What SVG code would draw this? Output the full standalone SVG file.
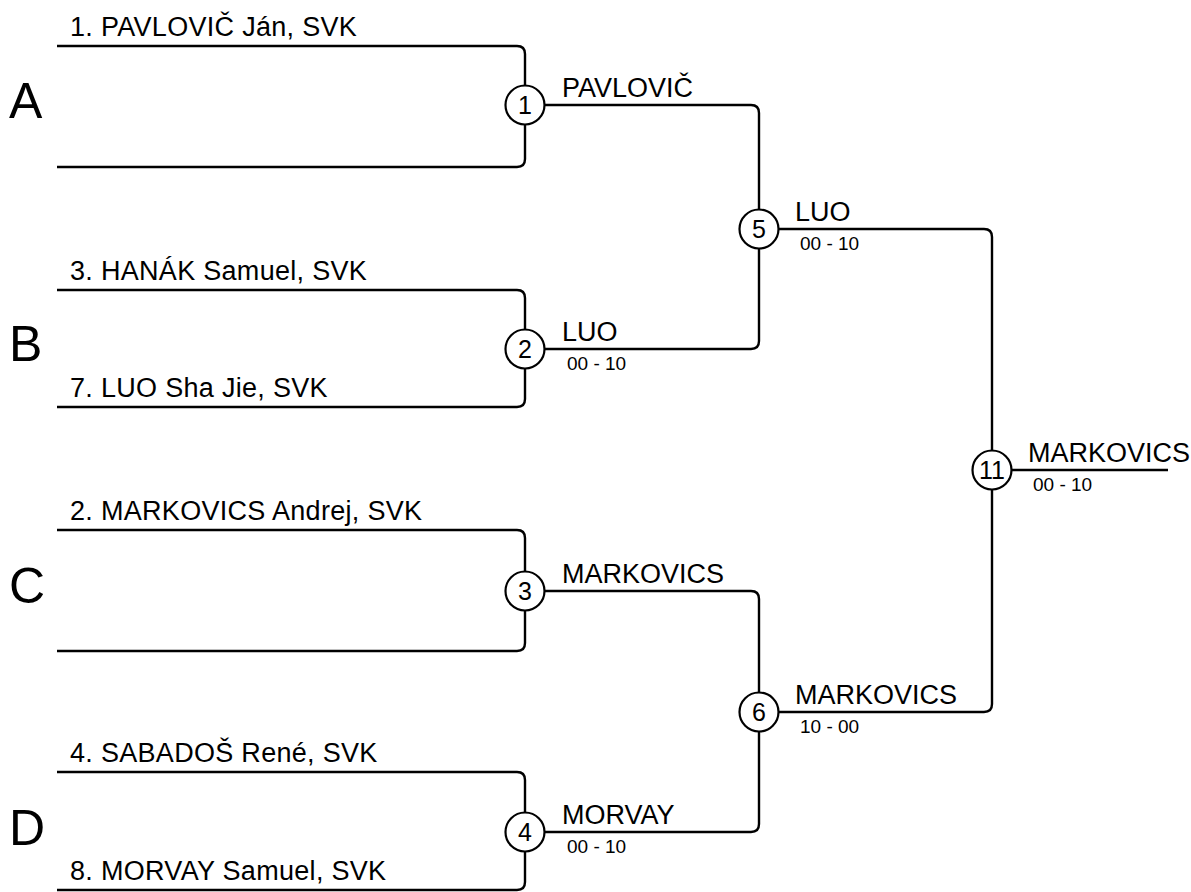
<svg xmlns="http://www.w3.org/2000/svg" width="1191" height="892" viewBox="0 0 1191 892">
<style>
.ln{fill:none;stroke:#000;stroke-width:2.4}
.c{fill:#fff;stroke:#000;stroke-width:2.2}
.t{font-family:"Liberation Sans",Arial,sans-serif;font-size:27px;fill:#000}
.p{font-family:"Liberation Sans",Arial,sans-serif;font-size:27px;letter-spacing:0.3px;fill:#000}
.n{font-family:"Liberation Sans",Arial,sans-serif;font-size:25px;fill:#000;text-anchor:middle}
.s{font-family:"Liberation Sans",Arial,sans-serif;font-size:19px;fill:#000}
.g{font-family:"Liberation Sans",Arial,sans-serif;font-size:50px;fill:#000}
</style>
<rect width="1191" height="892" fill="#fff"/>
<g id="connectors">
<path class="ln" d="M57,46 H517 Q525,46 525,54 V159 Q525,167 517,167 H57"/>
<path class="ln" d="M57,290 H517 Q525,290 525,298 V399 Q525,407 517,407 H57"/>
<path class="ln" d="M57,530 H517 Q525,530 525,538 V643 Q525,651 517,651 H57"/>
<path class="ln" d="M57,772 H517 Q525,772 525,780 V882 Q525,890 517,890 H57"/>
<path class="ln" d="M525,105 H751 Q759,105 759,113 V341 Q759,349 751,349 H525"/>
<path class="ln" d="M525,591 H751 Q759,591 759,599 V824 Q759,832 751,832 H525"/>
<path class="ln" d="M759,229 H984 Q992,229 992,237 V704 Q992,712 984,712 H759"/>
<path class="ln" d="M992,470 H1168"/>
</g>
<g id="labels">
<text class="g" x="9" y="118">A</text>
<text class="g" x="9" y="361">B</text>
<text class="g" x="9" y="603">C</text>
<text class="g" x="9" y="845">D</text>
<text class="p" x="70" y="36">1. PAVLOVIČ Ján, SVK</text>
<text class="p" x="70" y="280">3. HANÁK Samuel, SVK</text>
<text class="p" x="70" y="397">7. LUO Sha Jie, SVK</text>
<text class="p" x="70" y="520">2. MARKOVICS Andrej, SVK</text>
<text class="p" x="70" y="762">4. SABADOŠ René, SVK</text>
<text class="p" x="70" y="880">8. MORVAY Samuel, SVK</text>
</g>
<g id="m1"><circle class="c" cx="525" cy="105" r="19.5"/><text class="n" x="525" y="114">1</text><text class="t" x="562" y="97">PAVLOVIČ</text></g>
<g id="m2"><circle class="c" cx="525" cy="349" r="19.5"/><text class="n" x="525" y="358">2</text><text class="t" x="562" y="341">LUO</text><text class="s" x="567" y="370">00 - 10</text></g>
<g id="m3"><circle class="c" cx="525" cy="591" r="19.5"/><text class="n" x="525" y="600">3</text><text class="t" x="562" y="583">MARKOVICS</text></g>
<g id="m4"><circle class="c" cx="525" cy="832" r="19.5"/><text class="n" x="525" y="841">4</text><text class="t" x="562" y="824">MORVAY</text><text class="s" x="567" y="853">00 - 10</text></g>
<g id="m5"><circle class="c" cx="759" cy="229" r="19.5"/><text class="n" x="759" y="238">5</text><text class="t" x="795" y="221">LUO</text><text class="s" x="800" y="250">00 - 10</text></g>
<g id="m6"><circle class="c" cx="759" cy="712" r="19.5"/><text class="n" x="759" y="721">6</text><text class="t" x="795" y="704">MARKOVICS</text><text class="s" x="800" y="733">10 - 00</text></g>
<g id="m11"><circle class="c" cx="992" cy="470" r="19.5"/><text class="n" x="992" y="479">11</text><text class="t" x="1028" y="462">MARKOVICS</text><text class="s" x="1033" y="491">00 - 10</text></g>
</svg>
